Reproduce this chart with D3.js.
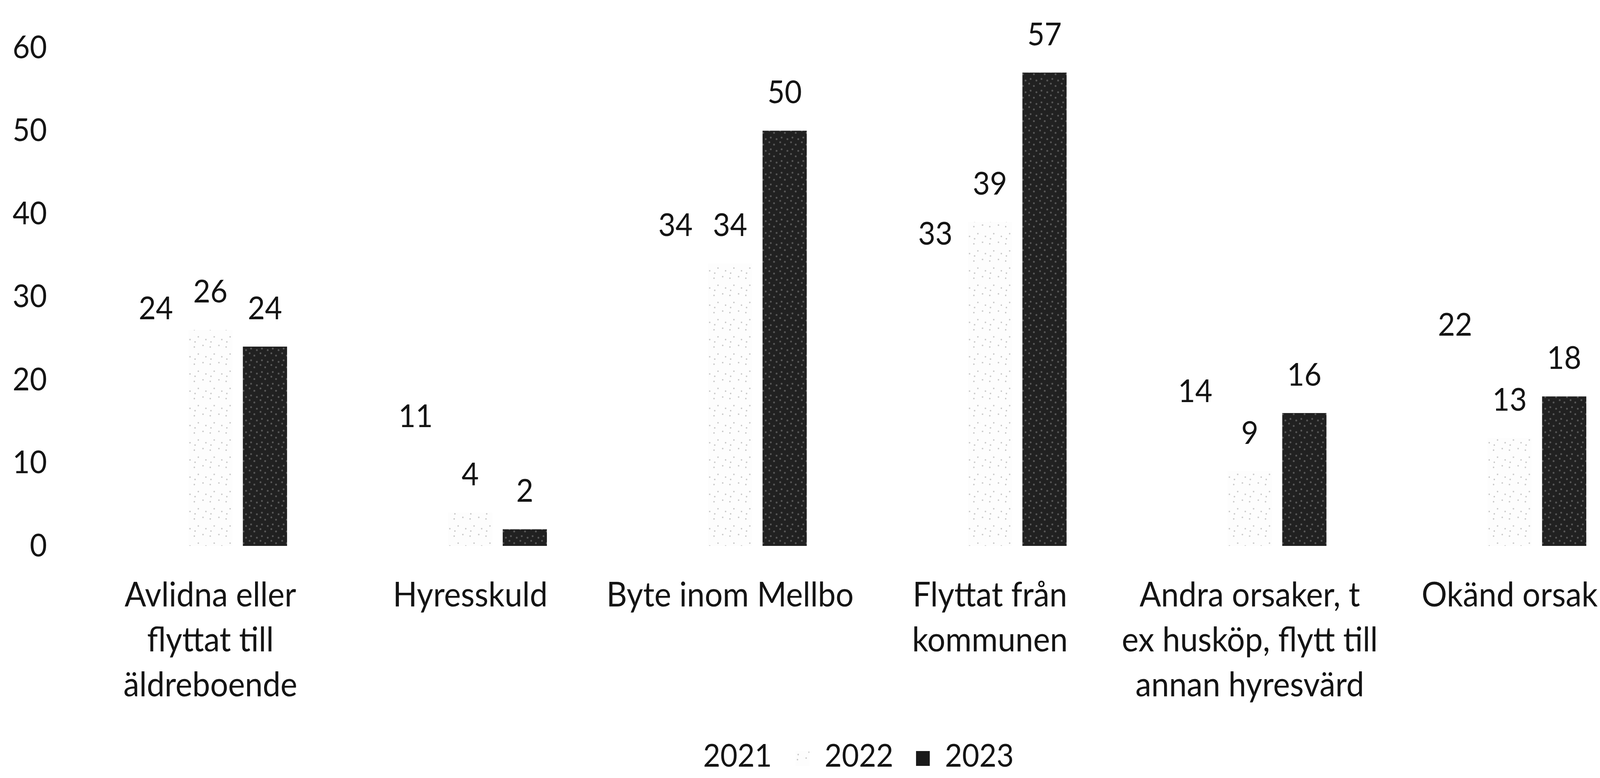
<!DOCTYPE html>
<html>
<head>
<meta charset="utf-8">
<script src="https://cdn.jsdelivr.net/npm/d3@7.9.0/dist/d3.min.js"></script>
<style>
  html, body { margin: 0; padding: 0; background: #fff; overflow: hidden; }
  svg { display: block; width: 100vw; height: 100vh; font-family: Lato, "Open Sans", sans-serif; }
</style>
</head>
<body>
<svg id="chart" viewBox="0 0 4426 1991" preserveAspectRatio="none"></svg>
<script>
// data
const categories = [
  'Avlidna eller\nflyttat till\näldreboende',
  'Hyresskuld',
  'Byte inom Mellbo',
  'Flyttat från\nkommunen',
  'Andra orsaker, t\nex husköp, flytt till\nannan hyresvärd',
  'Okänd orsak'
];
const years = ['2021', '2022', '2023'];
const values2021 = [24, 11, 34, 33, 14, 22];
const values2022 = [26, 4, 34, 39, 9, 13];
const values2023 = [24, 2, 50, 57, 16, 18];
const yTicks = [0, 10, 20, 30, 40, 50, 60];

const valuesByYear = { '2021': values2021, '2022': values2022, '2023': values2023 };
const fills = { '2021': '#ffffff', '2022': 'url(#speck)', '2023': 'url(#dark)' };
const legendFills = { '2021': '#ffffff', '2022': 'url(#speck)', '2023': '#1a1a1a' };

const svg = d3.select('#chart');
const labelSize = 88;
const numberSize = 82;

// textures that stand in for the scanned look
const defs = svg.append('defs');
let speck = defs.append('pattern')
  .attr('id', 'speck').attr('patternUnits', 'userSpaceOnUse')
  .attr('width', 44).attr('height', 44);
speck.append('rect').attr('width', 44).attr('height', 44).attr('fill', '#fdfdfd');
[[6, 8], [30, 4], [17, 26], [38, 33], [8, 39]].forEach(([cx, cy]) => {
  speck.append('circle').attr('cx', cx).attr('cy', cy).attr('r', 2).attr('fill', '#c4c4c4');
});
let dark = defs.append('pattern')
  .attr('id', 'dark').attr('patternUnits', 'userSpaceOnUse')
  .attr('width', 30).attr('height', 30);
dark.append('rect').attr('width', 30).attr('height', 30).attr('fill', '#212121');
[[5, 4], [18, 10], [9, 22], [25, 26]].forEach(([cx, cy]) => {
  dark.append('circle').attr('cx', cx).attr('cy', cy).attr('r', 2.5).attr('fill', '#5a5a5a');
});

let x0 = d3.scaleBand()
  .domain(categories)
  .range([222.6, 4535.4])
  .paddingInner(0.37)
  .paddingOuter(0.185);

let x1 = d3.scaleBand()
  .domain(years)
  .range([0, x0.bandwidth()])
  .paddingInner(0.19)
  .paddingOuter(0.095);

let y = d3.scaleLinear().domain([0, 60]).range([1397, 122]);

// y axis, no line and no ticks, only labels
let yAxis = svg.append('g')
  .attr('transform', 'translate(130,0)')
  .call(d3.axisLeft(y).tickValues(yTicks).tickSize(0).tickPadding(0));
yAxis.select('.domain').remove();
yAxis.selectAll('text')
  .attr('font-size', numberSize)
  .attr('font-family', 'Lato')
  .attr('fill', '#141414');

// bars
let groups = svg.append('g')
  .selectAll('g')
  .data(categories)
  .join('g')
  .attr('transform', (d) => `translate(${x0(d)},0)`);

groups.selectAll('rect')
  .data((d, i) => years.map((yr) => ({ year: yr, value: valuesByYear[yr][i] })))
  .join('rect')
  .attr('x', (d) => x1(d.year))
  .attr('y', (d) => y(d.value))
  .attr('width', x1.bandwidth())
  .attr('height', (d) => y(0) - y(d.value))
  .attr('fill', (d) => fills[d.year]);

groups.selectAll('text.val')
  .data((d, i) => years.map((yr) => ({ year: yr, value: valuesByYear[yr][i] })))
  .join('text')
  .attr('class', 'val')
  .attr('x', (d) => x1(d.year) + x1.bandwidth() / 2)
  .attr('y', (d) => y(d.value) - 70)
  .attr('text-anchor', 'middle')
  .attr('font-size', numberSize)
  .attr('fill', '#141414')
  .text((d) => d.value);

// category labels
let xAxis = svg.append('g');
categories.forEach((c) => {
  let t = xAxis.append('text')
    .attr('text-anchor', 'middle')
    .attr('font-size', labelSize)
    .attr('fill', '#141414');
  c.split('\n').forEach((line, i) => {
    t.append('tspan')
      .attr('x', x0(c) + x0.bandwidth() / 2)
      .attr('y', 1552 + i * 115)
      .text(line);
  });
});

// legend
let legendX = d3.scaleOrdinal().domain(years).range([1945, 2281, 2614]);
let legend = svg.append('g');
years.forEach((yr) => {
  legend.append('rect')
    .attr('x', legendX(yr) - 80)
    .attr('y', 1922)
    .attr('width', 38)
    .attr('height', 38)
    .attr('fill', legendFills[yr]);
  legend.append('text')
    .attr('x', legendX(yr))
    .attr('y', 1962)
    .attr('font-size', numberSize)
    .attr('fill', '#141414')
    .text(yr);
});
</script>
</body>
</html>
